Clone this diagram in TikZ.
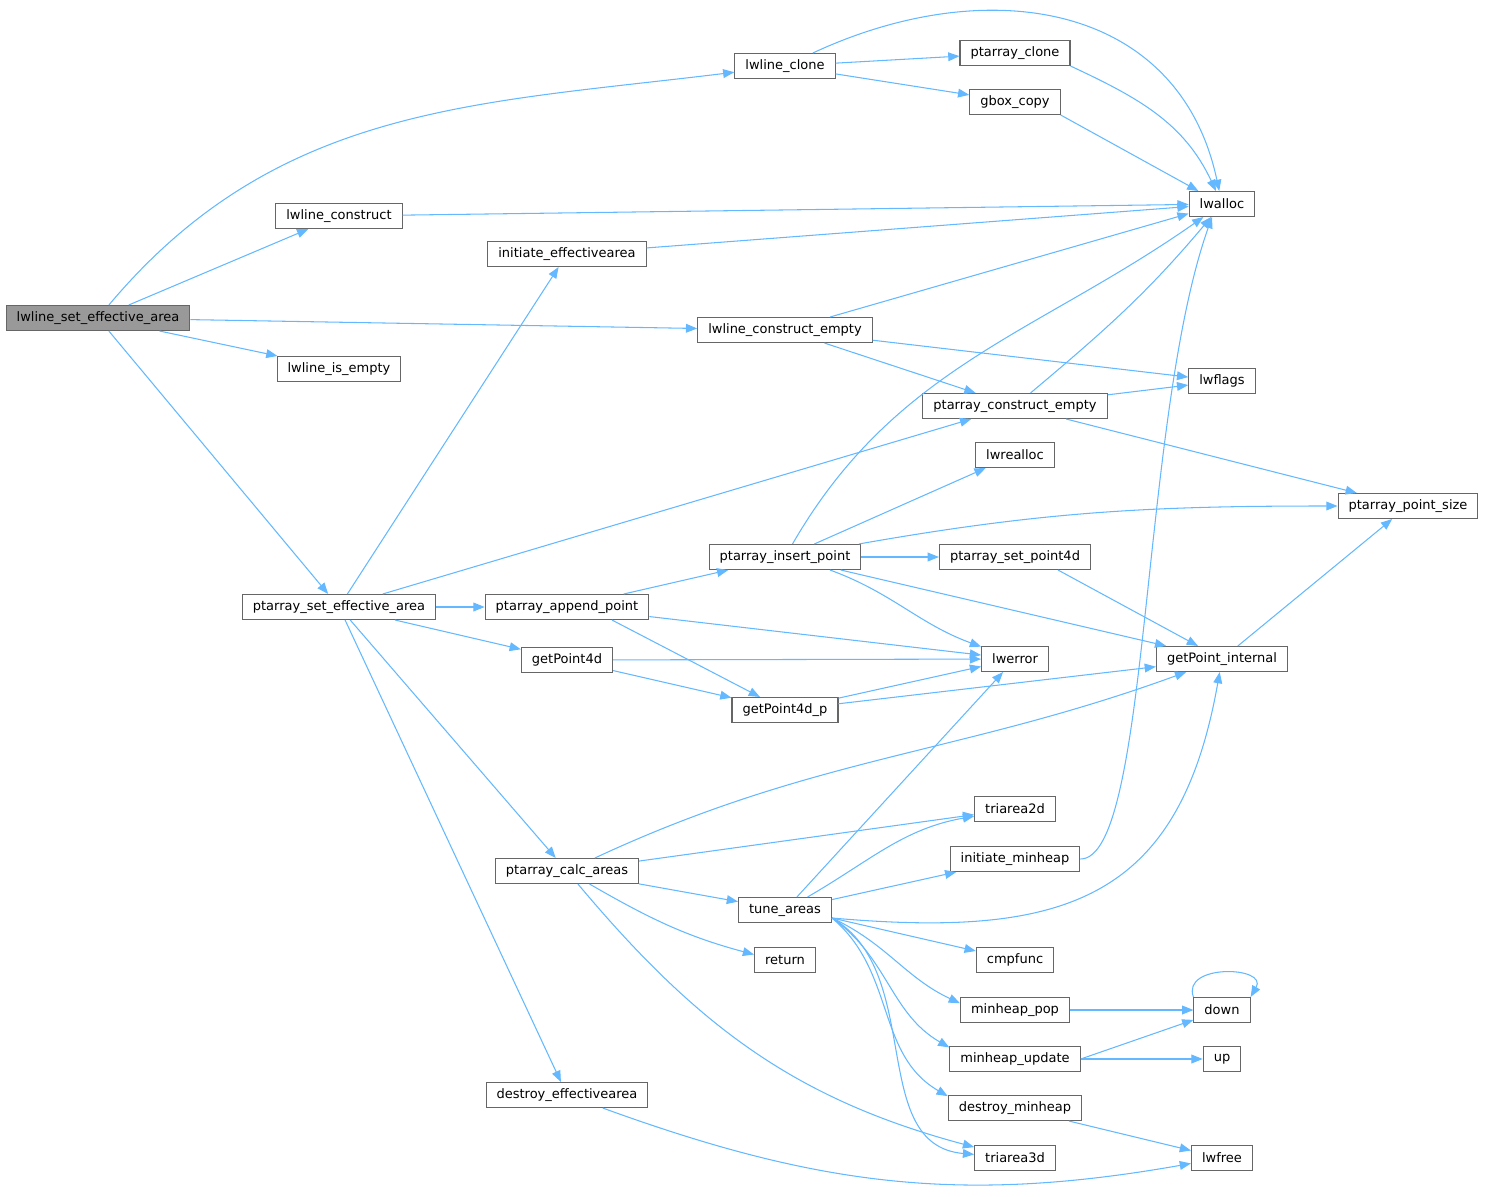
\documentclass[tikz,border=0pt]{standalone}
\usepackage{fontspec}
\setmainfont{DejaVu Sans}
\usepackage{xcolor}
\usetikzlibrary{arrows.meta, calc}

\definecolor{callblue}{HTML}{63B8FF}
\definecolor{boxgray}{HTML}{666666}
\definecolor{rootgray}{HTML}{999999}

\begin{document}
\begin{tikzpicture}[x=0.02cm, y=0.02cm,
        fn/.style={draw=boxgray, fill=white, line width=0.6pt,
            font=\fontsize{7.4}{9}\selectfont, inner xsep=6pt, inner ysep=0pt,
            minimum height=0.5cm},
        root/.style={fn, fill=rootgray},
        call/.style={draw=callblue, line width=0.6pt,
            -{Triangle[length=6.4pt, width=5pt]}}
        ]
        \useasboundingbox (0,0) rectangle (1485,-1197);

        %% Caller
        \node[root] (lsea) at (98,-318) {lwline\_set\_effective\_area};

        %% First level
        \node[fn] (lcons)  at (339,-216) {lwline\_construct};
        \node[fn] (lempty) at (339,-369) {lwline\_is\_empty};
        \node[fn] (psea)   at (339,-607) {ptarray\_set\_effective\_area};

        %% Second level
        \node[fn] (initea)    at (567,-254)  {initiate\_effectivearea};
        \node[fn] (pappend)   at (567,-607)  {ptarray\_append\_point};
        \node[fn] (gp4d)      at (567,-660)  {getPoint4d};
        \node[fn] (pcalc)     at (567,-871)  {ptarray\_calc\_areas};
        \node[fn] (destroyea) at (567,-1095) {destroy\_effectivearea};

        %% Third level
        \node[fn] (lclone)     at (785,-66)  {lwline\_clone};
        \node[fn] (lconsempty) at (785,-330) {lwline\_construct\_empty};
        \node[fn] (pinsert)    at (785,-557) {ptarray\_insert\_point};
        \node[fn] (gp4dp)      at (785,-710) {getPoint4d\_p};
        \node[fn] (tune)       at (785,-910) {tune\_areas};
        \node[fn] (ret)        at (785,-960) {return};

        %% Fourth level
        \node[fn] (pclone)     at (1015,-53)   {ptarray\_clone};
        \node[fn] (gbox)       at (1015,-102)  {gbox\_copy};
        \node[fn] (pconsempty) at (1015,-406)  {ptarray\_construct\_empty};
        \node[fn] (lwrealloc)  at (1015,-455)  {lwrealloc};
        \node[fn] (psetp4d)    at (1015,-557)  {ptarray\_set\_point4d};
        \node[fn] (lwerror)    at (1015,-659)  {lwerror};
        \node[fn] (tri2d)      at (1015,-809)  {triarea2d};
        \node[fn] (initmh)     at (1015,-859)  {initiate\_minheap};
        \node[fn] (cmpf)       at (1015,-960)  {cmpfunc};
        \node[fn] (mhpop)      at (1015,-1010) {minheap\_pop};
        \node[fn] (mhupd)      at (1015,-1059) {minheap\_update};
        \node[fn] (destroymh)  at (1015,-1108) {destroy\_minheap};
        \node[fn] (tri3d)      at (1015,-1158) {triarea3d};

        %% Fifth level
        \node[fn] (lwalloc) at (1222,-204)  {lwalloc};
        \node[fn] (lwflags) at (1222,-381)  {lwflags};
        \node[fn] (gpint)   at (1222,-659)  {getPoint\_internal};
        \node[fn] (down)    at (1222,-1010) {down};
        \node[fn] (up)      at (1222,-1059) {up};
        \node[fn] (lwfree)  at (1222,-1158) {lwfree};

        %% Last level
        \node[fn] (ppsize) at (1408,-506) {ptarray\_point\_size};

        %% ---- lwline_set_effective_area ----
        \draw[call] (lsea) to[out=50,in=187] (lclone);
        \draw[call] (lsea) -- (lcons);
        \draw[call] (lsea) -- (lconsempty);
        \draw[call] (lsea) -- (lempty);
        \draw[call] (lsea) -- (psea);

        %% ---- lwline_clone ----
        \draw[call] (lclone) to[out=25,in=102,looseness=1.15] (lwalloc);
        \draw[call] (lclone) -- (pclone);
        \draw[call] (lclone) -- (gbox);
        \draw[call] (pclone.south east) to[out=-25,in=115] (lwalloc);
        \draw[call] (gbox.south east) -- (lwalloc);

        %% ---- constructors ----
        \draw[call] (lcons) -- (lwalloc);
        \draw[call] (initea) -- (lwalloc);
        \draw[call] (lconsempty) -- (lwalloc);
        \draw[call] (lconsempty) -- (lwflags);
        \draw[call] (lconsempty) -- (pconsempty);
        \draw[call] (pconsempty) to[out=40,in=230] (lwalloc);
        \draw[call] (pconsempty) -- (lwflags);
        \draw[call] (pconsempty) -- (ppsize);

        %% ---- ptarray_set_effective_area ----
        \draw[call] (psea) -- (initea);
        \draw[call] (psea) -- (pconsempty);
        \draw[call] (psea) -- (pappend);
        \draw[call] (psea) -- (gp4d);
        \draw[call] (psea) -- (pcalc);
        \draw[call] (psea) -- (destroyea);

        %% ---- points ----
        \draw[call] (pappend) -- (pinsert);
        \draw[call] (pappend) -- (lwerror);
        \draw[call] ($(pappend.south)+(45,0)$) -- (gp4dp);
        \draw[call] (gp4d) -- (lwerror);
        \draw[call] (gp4d) -- (gp4dp);
        \draw[call] (pinsert) to[out=60,in=215] (lwalloc);
        \draw[call] (pinsert) -- (lwrealloc);
        \draw[call] (pinsert) to[out=10,in=180] (ppsize);
        \draw[call] (pinsert) -- (psetp4d);
        \draw[call] ($(pinsert.south)+(45,0)$) to[out=-20,in=160] (lwerror);
        \draw[call] (pinsert) -- (gpint);
        \draw[call] ($(psetp4d.south)+(43,0)$) -- (gpint);
        \draw[call] (gp4dp) -- (lwerror);
        \draw[call] (gp4dp) -- (gpint);
        \draw[call] (gpint) -- (ppsize);

        %% ---- ptarray_calc_areas ----
        \draw[call] (pcalc) to[out=25,in=200] (gpint);
        \draw[call] (pcalc) -- (tri2d);
        \draw[call] (pcalc) -- (tune);
        \draw[call] (pcalc) to[out=-30,in=165] (ret.170);
        \draw[call] (pcalc) to[out=-50,in=165] (tri3d);

        %% ---- tune_areas ----
        \coordinate (tune-r) at ($(tune.east)+(0,-8)$);
        \draw[call] (tune) -- (lwerror);
        \draw[call] (tune) to[out=30,in=190] (tri2d);
        \draw[call] (tune) -- (initmh);
        \draw[call] (tune-r) to[out=-5,in=260,looseness=1.3] (gpint);
        \draw[call] (tune-r) -- (cmpf);
        \draw[call] (tune-r) to[out=-25,in=155] (mhpop.173);
        \draw[call] (tune-r) to[out=-35,in=150] (mhupd.170);
        \draw[call] (tune-r) to[out=-40,in=150] (destroymh.170);
        \draw[call] (tune-r) to[out=-30,in=175] (tri3d);

        %% ---- heap ----
        \draw[call] (initmh.east) .. controls +(70,0) and +(-72,-203) .. ([xshift=-0.2cm]lwalloc.south);
        \draw[call] (mhpop) -- (down);
        \draw[call] (mhupd.east) -- (down);
        \draw[call] (mhupd) -- (up);
        \draw[call] (down.north west) to[out=110,in=60,looseness=1.6] (down.north east);
        \draw[call] (destroymh) -- (lwfree);
        \draw[call] (destroyea) to[out=-20,in=190] (lwfree);

    \end{tikzpicture}
\end{document}
